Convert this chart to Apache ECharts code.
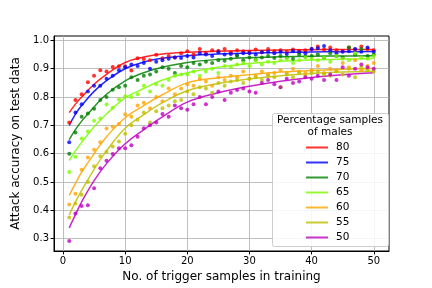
<!DOCTYPE html>
<html><head><meta charset="utf-8">
<script src="https://cdn.jsdelivr.net/npm/echarts@6/dist/echarts.min.js"></script>
<style>html,body{margin:0;padding:0;background:#fff}#c{width:432px;height:288px}</style>
</head><body><div id="c"></div>
<script>
const seriesNames = ['80','75','70','65','60','55','50'];
const colors = ['#ff0000','#0000ff','#008000','#7cfc00','#ffa500','#bfbf00','#bf00bf'];
const xTicks = [0,10,20,30,40,50];
const yTicks = [0.3,0.4,0.5,0.6,0.7,0.8,0.9,1.0];
const samplesX = Array.from({length:50},(_, i)=>i+1);

const pts80 = [0.71,0.79,0.81,0.852,0.875,0.895,0.89,0.906,0.909,0.909,
0.894,0.937,0.934,0.93,0.949,0.937,0.945,0.94,0.955,0.962,
0.95,0.97,0.955,0.965,0.963,0.97,0.958,0.965,0.962,0.96,
0.968,0.958,0.97,0.962,0.965,0.96,0.968,0.963,0.965,0.97,
0.978,0.968,0.975,0.965,0.962,0.975,0.968,0.978,0.97,0.965];
const pts75 = [0.64,0.745,0.775,0.82,0.84,0.84,0.865,0.875,0.895,0.905,
0.915,0.91,0.92,0.9,0.925,0.93,0.935,0.94,0.938,0.945,
0.94,0.955,0.95,0.945,0.958,0.95,0.952,0.948,0.955,0.955,
0.95,0.958,0.96,0.955,0.96,0.952,0.962,0.958,0.955,0.97,
0.972,0.98,0.965,0.955,0.96,0.962,0.97,0.96,0.975,0.96];
const pts70 = [0.60,0.675,0.73,0.742,0.759,0.79,0.80,0.826,0.835,0.84,
0.87,0.86,0.875,0.88,0.89,0.905,0.90,0.885,0.91,0.905,
0.92,0.915,0.925,0.92,0.93,0.928,0.935,0.945,0.93,0.94,
0.932,0.94,0.945,0.938,0.945,0.94,0.935,0.95,0.942,0.945,
0.95,0.94,0.955,0.945,0.94,0.975,0.95,0.97,0.945,0.95];
const pts65 = [0.535,0.589,0.654,0.678,0.716,0.724,0.774,0.762,0.791,0.803,
0.80,0.81,0.84,0.82,0.845,0.84,0.86,0.875,0.88,0.88,
0.89,0.875,0.89,0.9,0.885,0.91,0.905,0.915,0.92,0.91,
0.93,0.915,0.925,0.92,0.93,0.935,0.92,0.93,0.94,0.935,
0.93,0.94,0.925,0.945,0.935,0.93,0.955,0.94,0.935,0.945];
const pts60 = [0.421,0.459,0.543,0.587,0.614,0.64,0.689,0.695,0.705,0.739,
0.73,0.77,0.78,0.76,0.8,0.785,0.83,0.81,0.83,0.845,
0.84,0.865,0.855,0.84,0.87,0.86,0.875,0.87,0.89,0.865,
0.875,0.89,0.88,0.885,0.895,0.885,0.9,0.89,0.885,0.895,
0.91,0.885,0.9,0.895,0.92,0.905,0.93,0.895,0.91,0.92];
const pts55 = [0.375,0.424,0.455,0.50,0.556,0.591,0.607,0.625,0.643,0.67,
0.70,0.72,0.745,0.71,0.75,0.76,0.77,0.785,0.79,0.82,
0.81,0.835,0.83,0.815,0.85,0.84,0.855,0.86,0.85,0.865,
0.87,0.86,0.875,0.87,0.835,0.88,0.87,0.885,0.875,0.885,
0.89,0.88,0.875,0.89,0.88,0.9,0.87,0.905,0.895,0.89];
const pts50 = [0.292,0.389,0.415,0.418,0.478,0.549,0.575,0.599,0.619,0.619,
0.63,0.66,0.69,0.70,0.71,0.74,0.73,0.77,0.76,0.755,
0.775,0.80,0.775,0.80,0.82,0.79,0.815,0.825,0.83,0.82,
0.815,0.85,0.86,0.845,0.835,0.865,0.85,0.855,0.87,0.865,
0.875,0.86,0.88,0.86,0.905,0.875,0.9,0.915,0.905,0.9];

const curveX = [1,2,3,5,7,10,13,16,20,25,30,35,40,45,50];
const fit80 = [0.745,0.775,0.80,0.845,0.88,0.922,0.941,0.952,0.958,0.962,0.964,0.966,0.967,0.968,0.968];
const fit75 = [0.70,0.74,0.77,0.82,0.858,0.90,0.924,0.937,0.946,0.952,0.955,0.957,0.959,0.96,0.961];
const fit70 = [0.65,0.685,0.715,0.765,0.81,0.857,0.886,0.905,0.922,0.933,0.939,0.942,0.944,0.945,0.946];
const fit65 = [0.576,0.61,0.64,0.695,0.74,0.797,0.83,0.86,0.886,0.905,0.918,0.926,0.931,0.934,0.936];
const fit60 = [0.453,0.495,0.535,0.60,0.66,0.727,0.77,0.808,0.85,0.868,0.879,0.888,0.894,0.898,0.901];
const fit55 = [0.384,0.43,0.47,0.545,0.61,0.69,0.738,0.78,0.822,0.848,0.864,0.875,0.883,0.888,0.891];
const fit50 = [0.338,0.385,0.43,0.505,0.565,0.635,0.685,0.73,0.782,0.815,0.838,0.856,0.869,0.879,0.886];

const allPts = [pts80,pts75,pts70,pts65,pts60,pts55,pts50];
const allFits = [fit80,fit75,fit70,fit65,fit60,fit55,fit50];

const font = 'DejaVu Sans';
const series = [];
allPts.forEach((p, i) => {
  series.push({
    name: 'pts' + seriesNames[i], type: 'scatter', symbol: 'circle', symbolSize: 4,
    itemStyle: {color: colors[i]}, z: 3, silent: true,
    data: samplesX.map((x, j) => [x, p[j]])
  });
});
allFits.forEach((f, i) => {
  series.push({
    name: seriesNames[i], type: 'line', smooth: 0.4, showSymbol: false, symbol: 'none',
    lineStyle: {color: colors[i], width: 1.5, opacity: 0.85}, itemStyle: {color: colors[i], opacity: 0.8},
    z: 2, data: curveX.map((x, j) => [x, f[j]])
  });
});

const chart = echarts.init(document.getElementById('c'), null, {renderer: 'canvas'});
chart.setOption({
  animation: false,
  backgroundColor: '#fff',
  grid: {left: 54, right: 43, top: 36, bottom: 36, show: true, borderColor: '#000', borderWidth: 1, backgroundColor: 'transparent'},
  xAxis: {
    type: 'value', min: -1.45, max: 52.45,
    name: 'No. of trigger samples in training', nameLocation: 'middle', nameGap: 20,
    nameTextStyle: {fontFamily: font, fontSize: 12, color: '#000'},
    axisLine: {show: true, onZero: false, lineStyle: {color: '#000'}},
    axisTick: {show: true, length: 3.5, customValues: xTicks, lineStyle: {color: '#000'}},
    axisLabel: {customValues: xTicks, fontFamily: font, fontSize: 10, color: '#000', margin: 5},
    splitLine: {show: true, lineStyle: {color: '#b0b0b0', width: 0.8}}
  },
  yAxis: {
    type: 'value', min: 0.2565, max: 1.0155,
    name: 'Attack accuracy on test data', nameLocation: 'middle', nameGap: 30,
    nameTextStyle: {fontFamily: font, fontSize: 12, color: '#000'},
    axisLine: {show: true, onZero: false, lineStyle: {color: '#000'}},
    axisTick: {show: true, length: 3.5, customValues: yTicks, lineStyle: {color: '#000'}},
    axisLabel: {customValues: yTicks, fontFamily: font, fontSize: 10, color: '#000', margin: 5,
      formatter: v => v.toFixed(1)},
    splitLine: {show: true, lineStyle: {color: '#b0b0b0', width: 0.8}}
  },
  legend: {
    data: seriesNames, orient: 'vertical', left: 306, top: 141, padding: 0, itemWidth: 22, itemHeight: 2,
    itemGap: 2, icon: 'rect', z: 20,
    textStyle: {fontFamily: font, fontSize: 10.5, color: '#000', lineHeight: 13, padding: [0,0,0,3]},
    selectedMode: false
  },
  graphic: [
    {type: 'rect', z: 10, shape: {x: 272.5, y: 113.5, width: 116, height: 133, r: 2},
     style: {fill: 'rgba(255,255,255,0.85)', stroke: '#cccccc', lineWidth: 1}},
    {type: 'text', z: 11, x: 330, y: 115,
     style: {text: 'Percentage samples', fontFamily: font, fontSize: 10.5, fill: '#000', align: 'center'}},
    {type: 'text', z: 11, x: 330, y: 127,
     style: {text: 'of males', fontFamily: font, fontSize: 10.5, fill: '#000', align: 'center'}}
  ],
  series: series
});
</script></body></html>
